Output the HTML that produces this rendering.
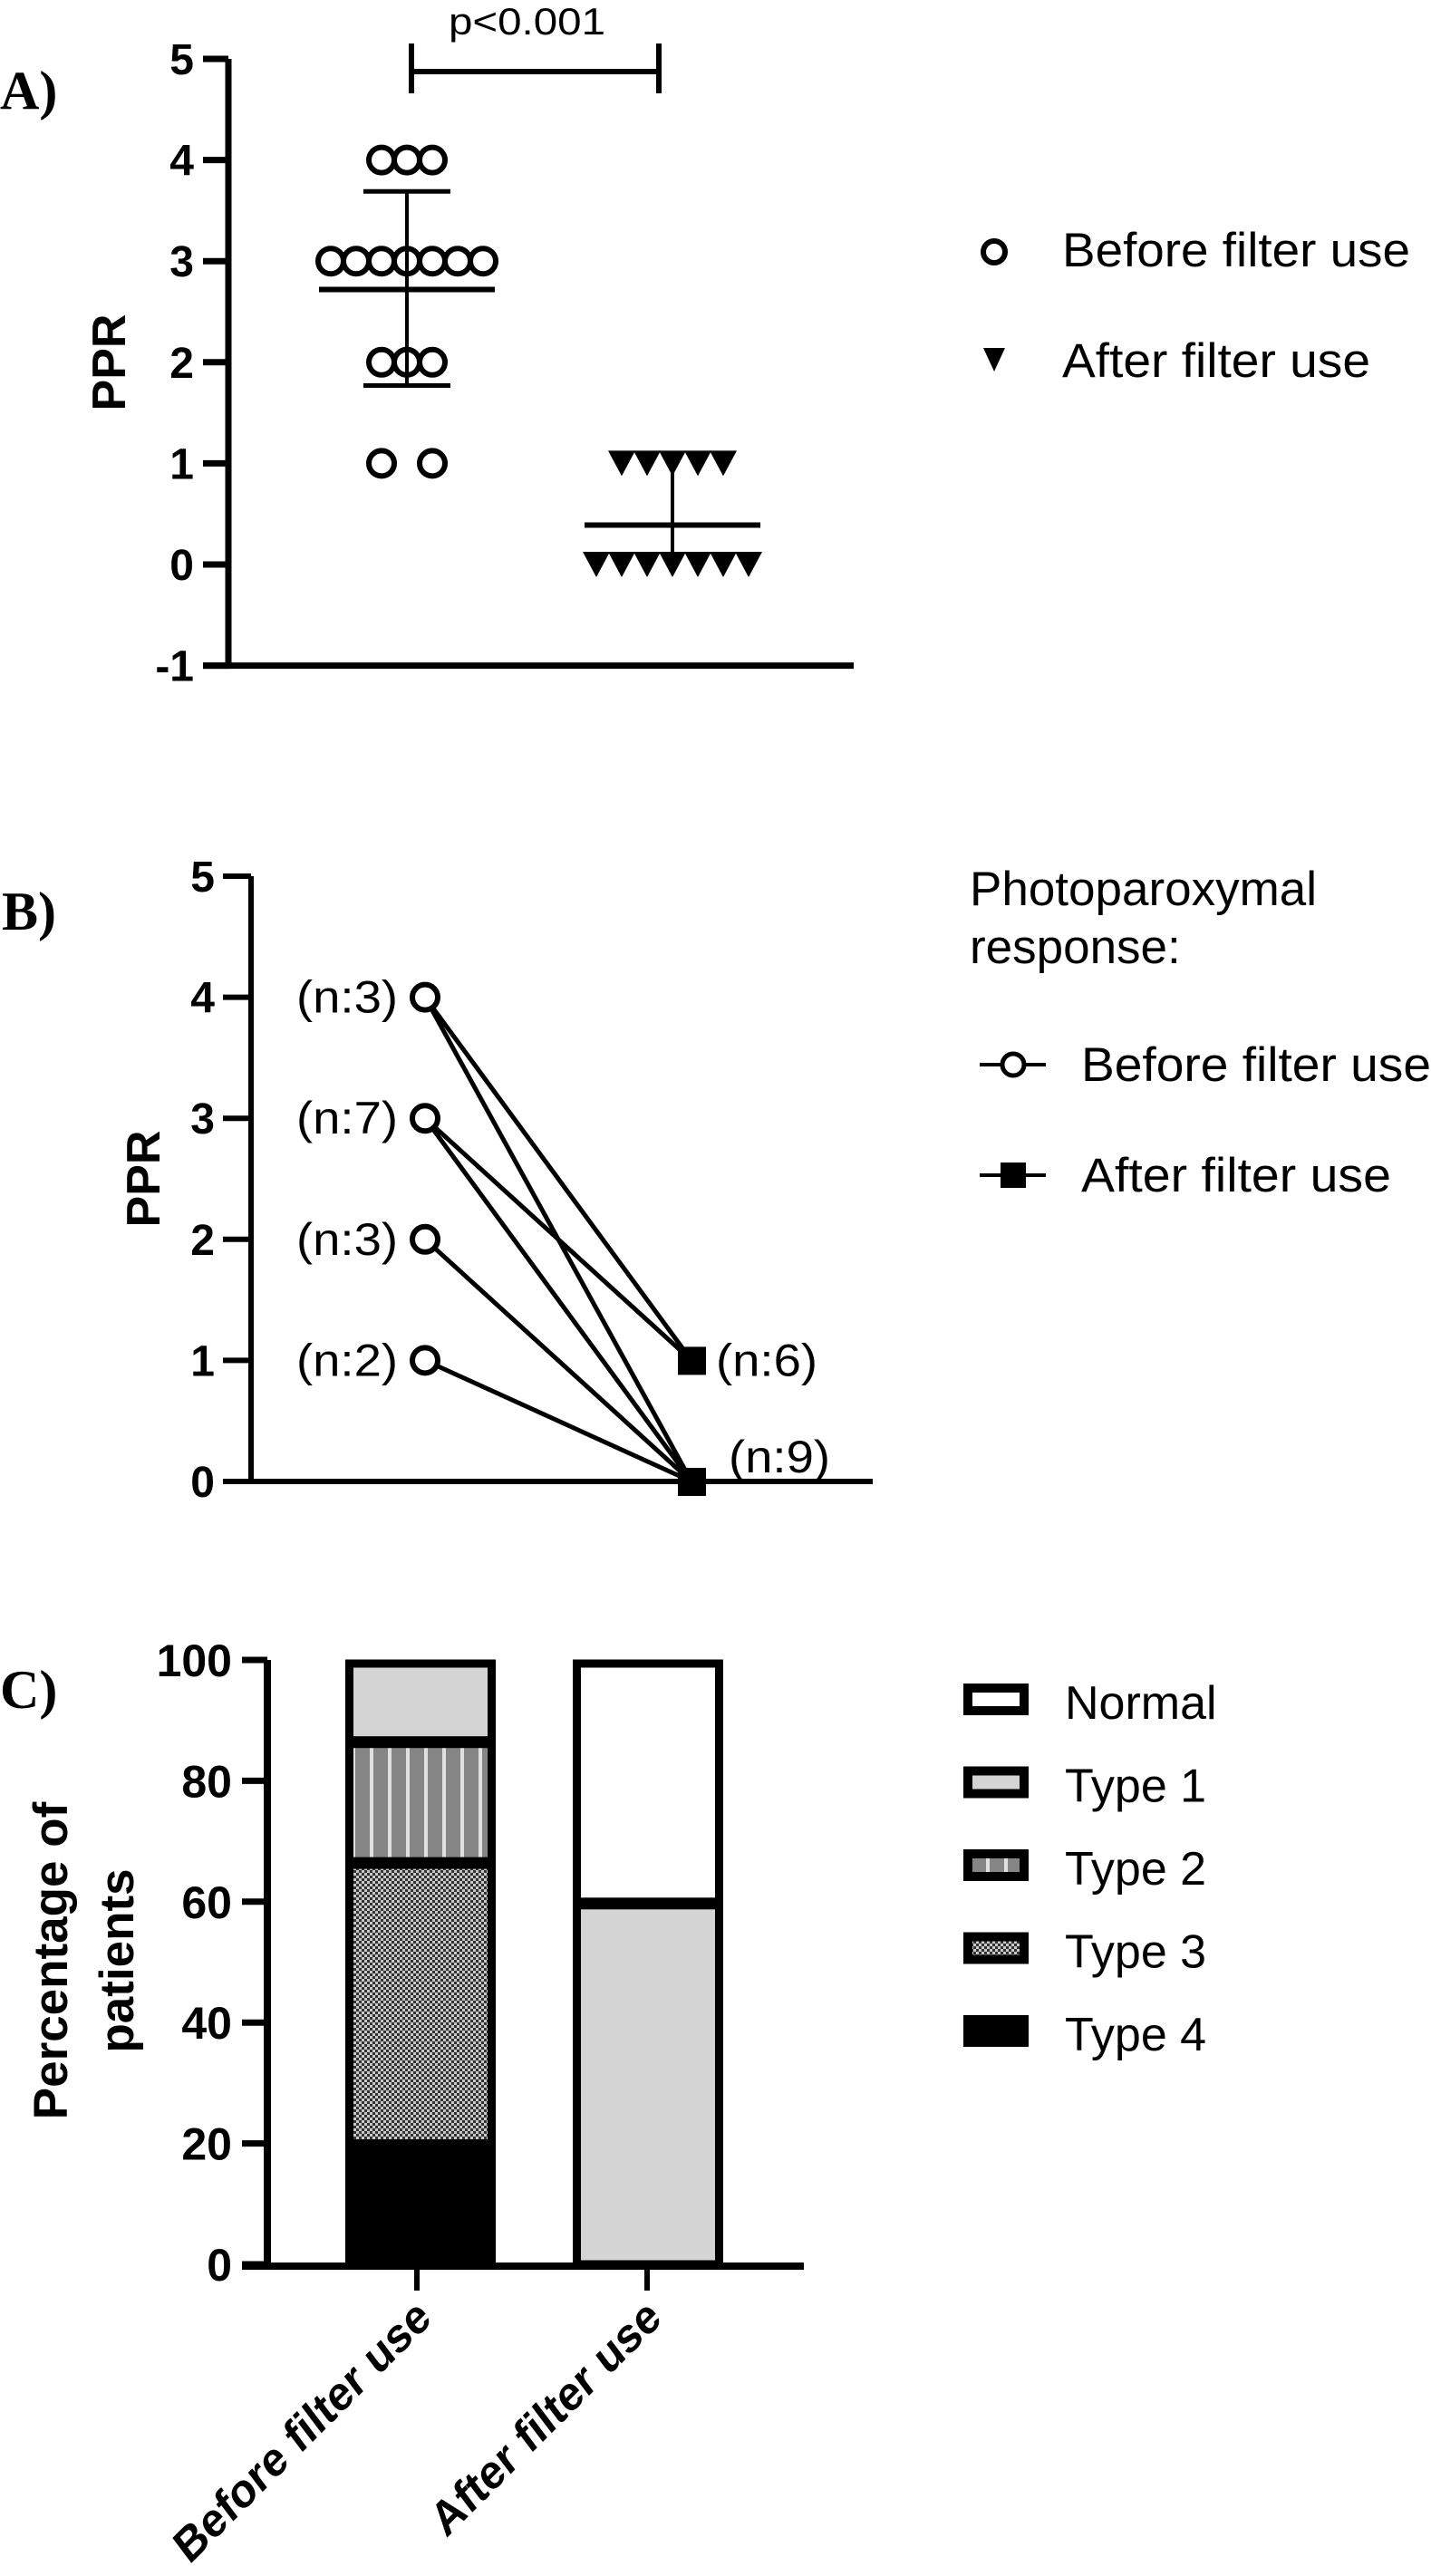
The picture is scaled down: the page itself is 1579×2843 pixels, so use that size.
<!DOCTYPE html>
<html><head><meta charset="utf-8"><style>
html,body{margin:0;padding:0;background:#fff;}
svg{display:block;}
text{fill:#000;}
</style></head><body>
<svg id="fig" width="1579" height="2843" viewBox="0 0 1579 2843" xmlns="http://www.w3.org/2000/svg" font-family="Liberation Sans, Arial, sans-serif">
<defs>
<pattern id="pat-type2" width="20" height="10" patternUnits="userSpaceOnUse"><rect width="20" height="10" fill="#858585"/><rect x="8" width="4" height="10" fill="#e0e0e0"/></pattern>
<pattern id="pat-type3" width="6" height="6" patternUnits="userSpaceOnUse"><rect width="6" height="6" fill="#c8c8c8"/><rect width="3" height="3" fill="#333"/><rect x="3" y="3" width="3" height="3" fill="#333"/></pattern>
</defs>
<g id="panelA"></g>
<g id="panelB"></g>
<g id="panelC"></g>
</svg>
<script>
// ---------- Panel A data ----------
const aTicks = [-1,0,1,2,3,4,5];
const aBeforeValues = [4,4,4,3,3,3,3,3,3,3,2,2,2,1,1];
const aAfterValues = [1,1,1,1,1,0,0,0,0,0,0,0];
const aBeforeMean = 2.72, aBeforeSdHi = 3.69, aBeforeSdLo = 1.77;
const aAfterMean = 0.39, aAfterSdHi = 0.9, aAfterSdLo = 0.05;
const aPText = "p<0.001";
// ---------- Panel B data ----------
const bTicks = [0,1,2,3,4,5];
const bBeforeLevels = [4,3,2,1];
const bBeforeCounts = ["(n:3)","(n:7)","(n:3)","(n:2)"];
const bAfterLevels = [1,0];
const bAfterCounts = ["(n:6)","(n:9)"];
const bPairsFrom = [4,4,3,3,2,1];
const bPairsTo = [1,0,1,0,0,0];
// ---------- Panel C data ----------
const cTicks = [0,20,40,60,80,100];
const cCategories = ["Before filter use","After filter use"];
const cSeries = ["Type 4","Type 3","Type 2","Type 1","Normal"];
const cBefore = [20,46.7,20,13.3,0];
const cAfter = [0,0,0,60,40];

const NS="http://www.w3.org/2000/svg";
function mk(parent,tag,attrs,txt){const e=document.createElementNS(NS,tag);for(const k in attrs)e.setAttribute(k,attrs[k]);if(txt!==undefined)e.textContent=txt;parent.appendChild(e);return e;}
const SERIF='font-family:"Liberation Serif",serif;font-weight:bold';

// ================= PANEL A =================
(function(){
const g=document.getElementById('panelA');
const yA=v=>623-111.6*v;
const axX=252;
let t=mk(g,'text',{x:0,y:120,style:SERIF,'font-size':60},'A)');


let ax=mk(g,'line',{x1:axX,y1:yA(5),x2:axX,y2:yA(-1)+3,stroke:'#000','stroke-width':7});


let xa=mk(g,'line',{x1:224,y1:yA(-1),x2:942,y2:yA(-1),stroke:'#000','stroke-width':7});


aTicks.forEach(v=>{
 let tk=mk(g,'line',{x1:224,y1:yA(v),x2:axX,y2:yA(v),stroke:'#000','stroke-width':7});
 
 
 let lb=mk(g,'text',{x:214,y:yA(v)+17,'text-anchor':'end','font-weight':'bold','font-size':48},String(v));
 
 
});
let yl=mk(g,'text',{x:0,y:0,transform:'translate(138,400) rotate(-90)','text-anchor':'middle','font-weight':'bold','font-size':52},'PPR');


const bx=449, sp=28;
const groups={};aBeforeValues.forEach(v=>{groups[v]=(groups[v]||0)+1;});
Object.keys(groups).forEach(k=>{
 const n=groups[k],v=+k;
 for(let i=0;i<n;i++){
  let off=(v===1)?(i-(n-1)/2)*56:(i-(n-1)/2)*sp;
  let c=mk(g,'circle',{cx:bx+off,cy:yA(v),r:14,fill:'none',stroke:'#000','stroke-width':6});
  
  
 }
});
function errbar(cx,mean,hi,lo,mw,cw,name){
 let l=mk(g,'line',{x1:cx,y1:yA(hi),x2:cx,y2:yA(lo),stroke:'#000','stroke-width':4});
 
 
 let m=mk(g,'line',{x1:cx-mw,y1:yA(mean),x2:cx+mw,y2:yA(mean),stroke:'#000','stroke-width':6});
 
 
 [hi,lo].forEach(v=>{let c=mk(g,'line',{x1:cx-cw,y1:yA(v),x2:cx+cw,y2:yA(v),stroke:'#000','stroke-width':5});
 
 });
}
errbar(bx,aBeforeMean,aBeforeSdHi,aBeforeSdLo,97,48,'before');
const ax2=742;
const g2={};aAfterValues.forEach(v=>{g2[v]=(g2[v]||0)+1;});
errbar(ax2,aAfterMean,aAfterSdHi,aAfterSdLo,97,0,'after');
Object.keys(g2).forEach(k=>{
 const n=g2[k],v=+k;
 for(let i=0;i<n;i++){
  const cx=ax2+(i-(n-1)/2)*28, cy=yA(v);
  let p=mk(g,'polygon',{points:`${cx-15},${cy-14} ${cx+15},${cy-14} ${cx},${cy+14}`,fill:'#000'});
  
  
 }
});
const sb=mk(g,'g',{});


mk(sb,'line',{x1:454,y1:79,x2:727,y2:79,stroke:'#000','stroke-width':6});
mk(sb,'line',{x1:454,y1:48,x2:454,y2:103,stroke:'#000','stroke-width':6});
mk(sb,'line',{x1:727,y1:48,x2:727,y2:103,stroke:'#000','stroke-width':6});
let pt=mk(g,'text',{x:495,y:38,'font-size':42,textLength:173,lengthAdjust:'spacingAndGlyphs'},aPText);


let le1=mk(g,'g',{});


mk(le1,'circle',{cx:1097,cy:278,r:12,fill:'none',stroke:'#000','stroke-width':6});
mk(le1,'text',{x:1172,y:294,'font-size':53,textLength:384,lengthAdjust:'spacingAndGlyphs'},'Before filter use');
let le2=mk(g,'g',{});


mk(le2,'polygon',{points:'1085,384 1109,384 1097,410',fill:'#000'});
mk(le2,'text',{x:1172,y:416,'font-size':53,textLength:340,lengthAdjust:'spacingAndGlyphs'},'After filter use');
})();

// ================= PANEL B =================
(function(){
const g=document.getElementById('panelB');
const yB=v=>1635-133.6*v;
const axX=277, xBefore=469, xAfter=763;
let t=mk(g,'text',{x:2,y:1026,style:SERIF,'font-size':60},'B)');


let ax=mk(g,'line',{x1:axX,y1:yB(5),x2:axX,y2:yB(0)+3,stroke:'#000','stroke-width':6});


let xa=mk(g,'line',{x1:246,y1:yB(0),x2:963,y2:yB(0),stroke:'#000','stroke-width':6});


bTicks.forEach(v=>{
 let tk=mk(g,'line',{x1:246,y1:yB(v),x2:axX,y2:yB(v),stroke:'#000','stroke-width':6});
 
 
 let lb=mk(g,'text',{x:237,y:yB(v)+17,'text-anchor':'end','font-weight':'bold','font-size':48},String(v));
 
 
});
let yl=mk(g,'text',{x:0,y:0,transform:'translate(176,1301) rotate(-90)','text-anchor':'middle','font-weight':'bold','font-size':52},'PPR');


bPairsFrom.forEach((f,i)=>{
 let l=mk(g,'line',{x1:xBefore,y1:yB(f),x2:xAfter,y2:yB(bPairsTo[i]),stroke:'#000','stroke-width':5});
 
 
});
bBeforeLevels.forEach((v,i)=>{
 let c=mk(g,'circle',{cx:xBefore,cy:yB(v),r:14,fill:'#fff',stroke:'#000','stroke-width':6});
 
 
 let lb=mk(g,'text',{x:439,y:yB(v)+17,'text-anchor':'end','font-size':50,textLength:112,lengthAdjust:'spacingAndGlyphs'},bBeforeCounts[i]);
 
 
});
bAfterLevels.forEach((v,i)=>{
 let s=mk(g,'rect',{x:xAfter-15,y:yB(v)-15,width:31,height:31,fill:'#000'});
 
 
 let lb=mk(g,'text',{x:v===0?804:790,y:v===0?yB(v)-10:yB(v)+17,'font-size':50,textLength:112,lengthAdjust:'spacingAndGlyphs'},bAfterCounts[i]);
 
 
});
let lt=mk(g,'text',{x:1070,y:999,'font-size':53},'Photoparoxymal');


mk(g,'text',{x:1070,y:1063,'font-size':53},'response:');
let e1=mk(g,'g',{});


mk(e1,'line',{x1:1081,y1:1175,x2:1154,y2:1175,stroke:'#000','stroke-width':4});
mk(e1,'circle',{cx:1118,cy:1175,r:12,fill:'#fff',stroke:'#000','stroke-width':5});
mk(e1,'text',{x:1193,y:1193,'font-size':53,textLength:386,lengthAdjust:'spacingAndGlyphs'},'Before filter use');
let e2=mk(g,'g',{});


mk(e2,'line',{x1:1081,y1:1297,x2:1154,y2:1297,stroke:'#000','stroke-width':4});
mk(e2,'rect',{x:1104,y:1283,width:28,height:28,fill:'#000'});
mk(e2,'text',{x:1193,y:1315,'font-size':53,textLength:342,lengthAdjust:'spacingAndGlyphs'},'After filter use');
})();

// ================= PANEL C =================
(function(){
const g=document.getElementById('panelC');
const yC=v=>2499-6.67*v;
const axX=295;
const fills={"Normal":"#fff","Type 1":"#d4d4d4","Type 2":"url(#pat-type2)","Type 3":"url(#pat-type3)","Type 4":"#000"};
let t=mk(g,'text',{x:0,y:1885,style:SERIF,'font-size':60},'C)');


const barX=[381,632], barW=166, tickX=[460,714];
[cBefore,cAfter].forEach((vals,bi)=>{
 const x=barX[bi];
 let cum=0;
 vals.forEach((v,si)=>{
  if(v<=0)return;
  const y0=yC(cum), y1=yC(cum+v);
  let r=mk(g,'rect',{x:x+4.5,y:y1+4,width:barW-9,height:y0-y1-4,fill:fills[cSeries[si]],stroke:'#000','stroke-width':9});
  
  
  cum+=v;
 });
});
let ax=mk(g,'line',{x1:axX,y1:yC(100),x2:axX,y2:yC(0)+4,stroke:'#000','stroke-width':8});


let xa=mk(g,'line',{x1:267,y1:yC(0)+2,x2:887,y2:yC(0)+2,stroke:'#000','stroke-width':8});


cTicks.forEach(v=>{
 let tk=mk(g,'line',{x1:267,y1:yC(v),x2:axX,y2:yC(v),stroke:'#000','stroke-width':7});
 
 
 let lb=mk(g,'text',{x:256,y:yC(v)+18,'text-anchor':'end','font-weight':'bold','font-size':50},String(v));
 
 
});
cCategories.forEach((c,i)=>{
 let tk=mk(g,'line',{x1:tickX[i],y1:yC(0),x2:tickX[i],y2:2528,stroke:'#000','stroke-width':6});
 
 
 let lb=mk(g,'text',{x:0,y:0,transform:`translate(${tickX[i]+18},2562) rotate(-45) skewX(-8)`,'text-anchor':'end','font-weight':'bold','font-size':50},c);
 
 
});
let yl1=mk(g,'text',{x:0,y:0,transform:'translate(74,2164) rotate(-90)','text-anchor':'middle','font-weight':'bold','font-size':53},'Percentage of');


mk(g,'text',{x:0,y:0,transform:'translate(147,2164) rotate(-90)','text-anchor':'middle','font-weight':'bold','font-size':53},'patients');
const legOrder=["Normal","Type 1","Type 2","Type 3","Type 4"];
legOrder.forEach((s,i)=>{
 const y=1858+i*91.5;
 let e=mk(g,'g',{});
 
 
 mk(e,'rect',{x:1068,y:y+5,width:62,height:25,fill:fills[s],stroke:'#000','stroke-width':10});
 mk(e,'text',{x:1175,y:y+39,'font-size':52},s);
});
})();
</script>
</body></html>
